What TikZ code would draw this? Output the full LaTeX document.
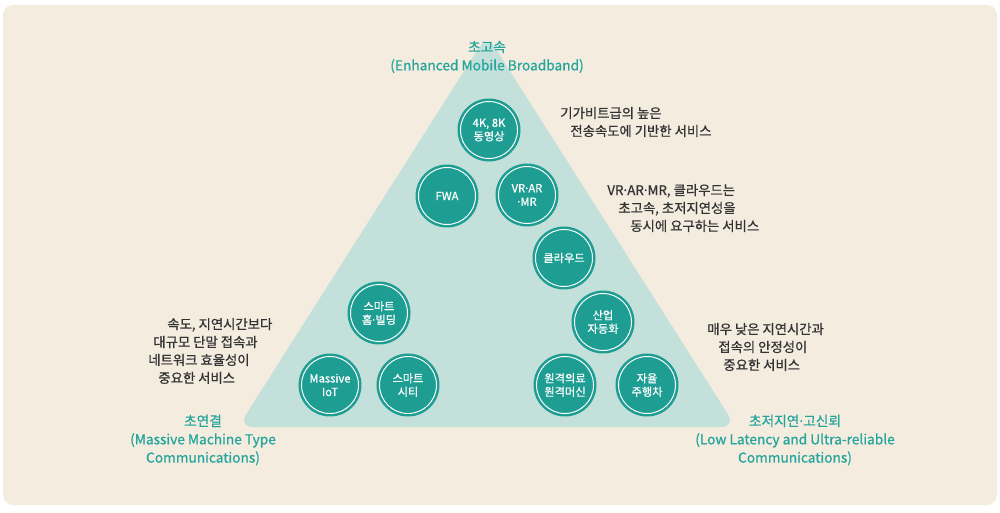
\documentclass[tikz,border=0pt]{standalone}
\usepackage{fontspec}
\setmainfont{Noto Sans CJK KR}[FakeBold=0.7]
\newcommand{\mdot}{\kern-.14em·\kern-.14em}
\definecolor{paper}{HTML}{F3ECDF}
\definecolor{tri}{HTML}{C4E0DB}
\definecolor{svcteal}{HTML}{1E9D93}
\definecolor{lblteal}{HTML}{25A59C}
\definecolor{ink}{HTML}{333333}

\begin{document}
\begin{tikzpicture}[x=0.02cm,y=-0.02cm,
  svc/.style={circle,fill=svcteal,minimum size=1.26cm,inner sep=0pt,text=white,align=center,
    font=\fontsize{6.4}{7.7}\selectfont,
    path picture={\draw[white,line width=0.55pt] (path picture bounding box.center) circle (0.57cm);}},
  lbl/.style={text=lblteal,align=center,font=\fontsize{7.8}{10.4}\selectfont},
  note/.style={text=ink,align=left,anchor=west,inner sep=0pt,font=\fontsize{7.6}{10.2}\selectfont}]
\fill[white] (0,0) rectangle (1000,513);
\useasboundingbox (0,0) rectangle (1000,513);
\fill[paper,rounded corners=0.2cm] (3,5) rectangle (997,505);
% the triangle
\fill[tri,rounded corners=0.3cm] (487,35) -- (736,427) -- (238,427) -- cycle;
% corner labels
\node[lbl] (embb) at (487,57) {초고속\\(Enhanced Mobile Broadband)};
\node[lbl] (mmtc) at (203,440) {초연결\\(Massive Machine Type\\Communications)};
\node[lbl] (urllc) at (795,440) {초저지연\mdot 고신뢰\\(Low Latency and Ultra-reliable\\Communications)};
% services
\node[svc] (uhd) at (489,130) {4K, 8K\\동영상};
\node[svc] (fwa) at (447,196) {FWA};
\node[svc] (vr) at (527,195) {VR\mdot AR\\\mdot MR};
\node[svc] (cloud) at (564,258) {클라우드};
\node[svc] (home) at (379,313) {스마트\\홈\mdot 빌딩};
\node[svc] (iot) at (330,385) {Massive\\IoT};
\node[svc] (city) at (408,385) {스마트\\시티};
\node[svc] (factory) at (603,322) {산업\\자동화};
\node[svc] (remote) at (565,385) {원격의료\\원격머신};
\node[svc] (car) at (647,385) {자율\\주행차};
% notes
\node[note] (embbnote) at (560,122) {기가비트급의 높은\\\hspace*{0.2cm}전송속도에 기반한 서비스};
\node[note] (vrnote) at (607,208) {VR\mdot AR\mdot MR, 클라우드는\\\hspace*{0.22cm}초고속, 초저지연성을\\\hspace*{0.46cm}동시에 요구하는 서비스};
\node[note] (mmtcnote) at (148,351) {\hspace*{0.38cm}속도, 지연시간보다\\\hspace*{0.1cm}대규모 단말 접속과\\네트워크 효율성이\\\hspace*{0.2cm}중요한 서비스};
\node[note] (urllcnote) at (707,347) {매우 낮은 지연시간과\\\hspace*{0.22cm}접속의 안정성이\\\hspace*{0.32cm}중요한 서비스};
\end{tikzpicture}
\end{document}
